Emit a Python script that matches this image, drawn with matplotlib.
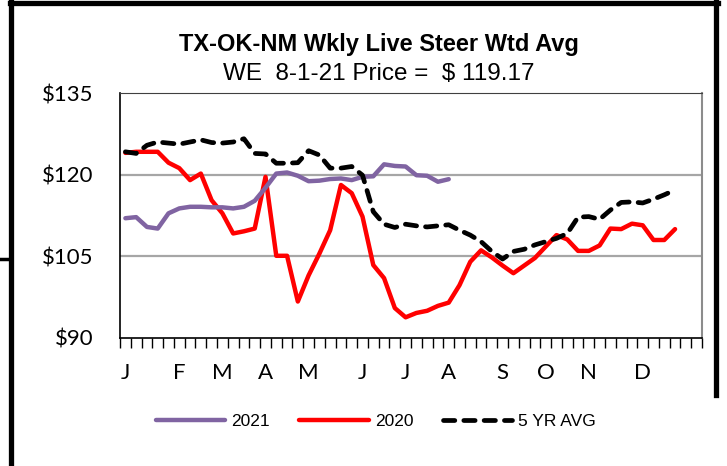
import matplotlib.pyplot as plt
from matplotlib.lines import Line2D
import numpy as np

# weekly prices, $/cwt
price_2021 = [112.0, 112.2, 110.4, 110.1, 112.9, 113.8, 114.1, 114.1, 114.0, 114.0,
              113.8, 114.1, 115.2, 117.6, 120.2, 120.4, 119.8, 118.8, 118.9, 119.2,
              119.3, 119.0, 119.6, 119.7, 121.9, 121.6, 121.5, 119.9, 119.8, 118.7,
              119.17]
price_2020 = [124.0, 124.2, 124.2, 124.2, 122.2, 121.2, 119.0, 120.2, 115.3, 112.9,
              109.2, 109.6, 110.1, 119.6, 105.1, 105.1, 96.7, 101.5, 105.5, 109.8,
              118.1, 116.6, 112.3, 103.4, 101.0, 95.5, 93.8, 94.6, 95.0, 95.9,
              96.5, 99.7, 104.0, 106.1, 104.8, 103.3, 101.9, 103.3, 104.7, 106.8,
              108.9, 108.1, 106.0, 106.0, 107.0, 110.1, 110.0, 111.0, 110.7, 108.0,
              108.0, 110.0]
avg_5yr = [124.2, 123.9, 125.4, 126.0, 125.8, 125.6, 126.0, 126.4, 125.9, 125.8,
           126.0, 126.6, 123.9, 123.8, 122.1, 122.1, 122.2, 124.4, 123.6, 121.2,
           121.2, 121.5, 119.9, 113.2, 110.9, 110.3, 110.9, 110.6, 110.4, 110.6,
           110.8, 109.8, 108.9, 107.7, 105.9, 104.5, 105.9, 106.3, 107.1, 107.7,
           108.3, 109.2, 112.2, 112.3, 111.8, 113.5, 114.9, 115.0, 114.8, 115.5,
           116.3, 117.2]

n_weeks = 54
month_pos = [0, 5, 9, 13, 17, 22, 26, 30, 35, 39, 43, 48]
month_labels = ['J', 'F', 'M', 'A', 'M', 'J', 'J', 'A', 'S', 'O', 'N', 'D']

fig = plt.figure(figsize=(7.27, 4.66), dpi=100)
ax = fig.add_axes([120 / 727, 1 - 338 / 466, 582 / 727, 245 / 466])

ax.plot(np.arange(len(price_2021)), price_2021, color='#8064a2', lw=3.2,
        solid_capstyle='round', solid_joinstyle='round', label='2021', zorder=3)
ax.plot(np.arange(len(price_2020)), price_2020, color='#ff0000', lw=3.2,
        solid_capstyle='round', solid_joinstyle='round', label='2020', zorder=2)
ax.plot(np.arange(len(avg_5yr)), avg_5yr, color='black', lw=3.4, dashes=(2.4, 1.9),
        dash_capstyle='round', dash_joinstyle='round', label='5 YR AVG', zorder=4)

ax.set_xlim(-0.5, n_weeks - 0.5)
ax.set_ylim(90, 135)
ax.set_yticks([90, 105, 120, 135])
ax.set_yticklabels(['$90', '$105', '$120', '$135'], family='Lato', fontsize=16)
ax.tick_params(axis='y', length=0, pad=19)
for v in [105, 120]:
    ax.axhline(v, color='#a6a6a6', lw=1.6, zorder=1)

ax.set_xticks(month_pos)
ax.set_xticklabels(month_labels, family='Lato', fontsize=16)
ax.set_xticks(np.arange(n_weeks + 1) - 0.5, minor=True)
ax.tick_params(axis='x', which='major', length=0, pad=18)
ax.tick_params(axis='x', which='minor', length=7, width=1, color='black')

ax.spines['left'].set_color('black')
ax.spines['bottom'].set_color('black')
ax.spines['left'].set_linewidth(1.2)
ax.spines['bottom'].set_linewidth(1.2)
ax.spines['top'].set_color('#404040')
ax.spines['right'].set_color('#8c8c8c')
ax.spines['right'].set_linewidth(1.5)

fig.text(379 / 727, 1 - 45 / 466, 'TX-OK-NM Wkly Live Steer Wtd Avg', ha='center', va='center',
         family='Liberation Sans', fontweight='bold', fontsize=17)
fig.text(379 / 727, 1 - 74 / 466, 'WE  8-1-21 Price =  $ 119.17', ha='center', va='center',
         family='Liberation Sans', fontsize=17.5)

leg = fig.legend(loc='center', bbox_to_anchor=(376 / 727, 1 - 421 / 466), ncol=3,
                 frameon=False, prop={'family': 'Liberation Sans', 'size': 12.5},
                 handlelength=4.0, handletextpad=0.35, columnspacing=1.7)

# outer frame of the screenshot
fig.add_artist(Line2D([10.5 / 727, 10.5 / 727], [0, 1], color='black', lw=3.8))
fig.add_artist(Line2D([10 / 727, 718 / 727], [1 - 2.5 / 466, 1 - 2.5 / 466], color='black', lw=3.8))
fig.add_artist(Line2D([716 / 727, 716 / 727], [1 - 395 / 466, 1], color='black', lw=3.8))
fig.add_artist(Line2D([0, 10 / 727], [1 - 258.5 / 466, 1 - 258.5 / 466], color='black', lw=2.5))

fig.savefig('out.png', dpi=100)
